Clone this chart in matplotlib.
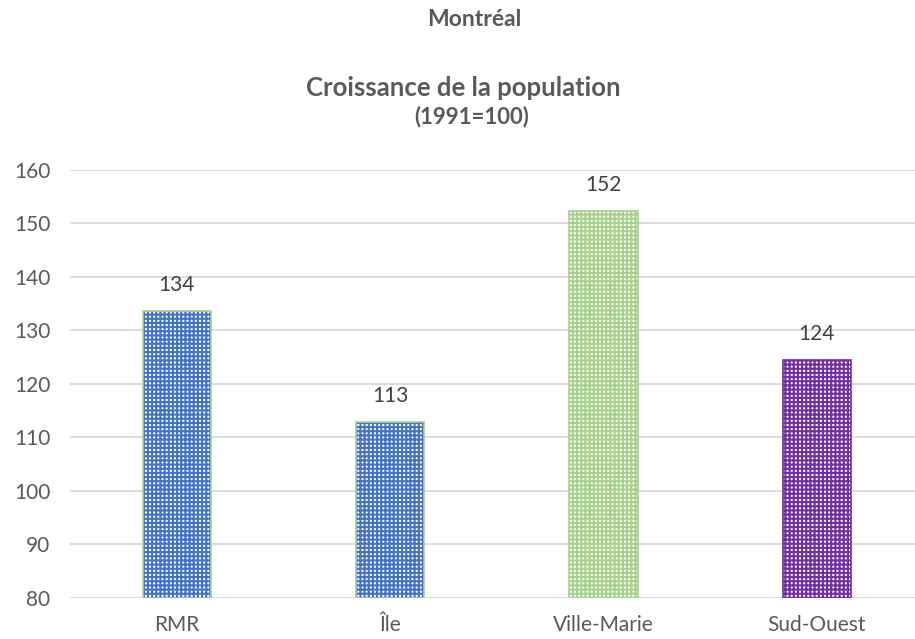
import matplotlib.pyplot as plt

plt.rcParams['font.family'] = ['Lato', 'DejaVu Sans']
plt.rcParams['hatch.linewidth'] = 1.5

categories = ['RMR', 'Île', 'Ville-Marie', 'Sud-Ouest']
values = [133.6, 112.9, 152.4, 124.4]
labels = ['134', '113', '152', '124']
fill_colors = ['#4472C4', '#4472C4', '#A9D18E', '#7030A0']
edge_colors = ['#A9D18E', '#A9D18E', '#A9D18E', '#7030A0']

fig = plt.figure(figsize=(9.15, 6.39), dpi=100)
ax = fig.add_axes([70 / 915, 41 / 639, 845 / 915, 428 / 639])

x = range(len(categories))
base = 80
# motif pointillé : grille colorée sur fond blanc
ax.bar(x, [v - base for v in values], bottom=base, width=0.32,
       color='white', edgecolor=fill_colors, hatch='++++', linewidth=0, zorder=3)
ax.bar(x, [v - base for v in values], bottom=base, width=0.32,
       fill=False, edgecolor=edge_colors, linewidth=1.2, zorder=4)

for i, v in enumerate(values):
    ax.text(i, v + 3.0, labels[i], ha='center', va='bottom', fontsize=15, color='#404040')

ax.set_ylim(80, 160)
ax.set_xlim(-0.5, 3.46)
ax.set_yticks(range(80, 161, 10))
ax.set_xticks(list(x))
ax.set_xticklabels(categories)
ax.tick_params(axis='both', length=0, labelsize=15, labelcolor='#595959')
ax.tick_params(axis='y', pad=14)
ax.tick_params(axis='x', pad=12)
ax.grid(axis='y', color='#D9D9D9', linewidth=1.3, zorder=0)
for s in ax.spines.values():
    s.set_visible(False)

fig.text(474 / 915, 1 - 19 / 639, 'Montréal', ha='center', va='center',
         fontsize=16.5, fontweight='bold', color='#595959')
fig.text(463 / 915, 1 - 88 / 639, 'Croissance de la population', ha='center', va='center',
         fontsize=18.5, fontweight='bold', color='#595959')
fig.text(472 / 915, 1 - 117 / 639, '(1991=100)', ha='center', va='center',
         fontsize=16, fontweight='bold', color='#595959')

plt.savefig('out.png', dpi=100)
